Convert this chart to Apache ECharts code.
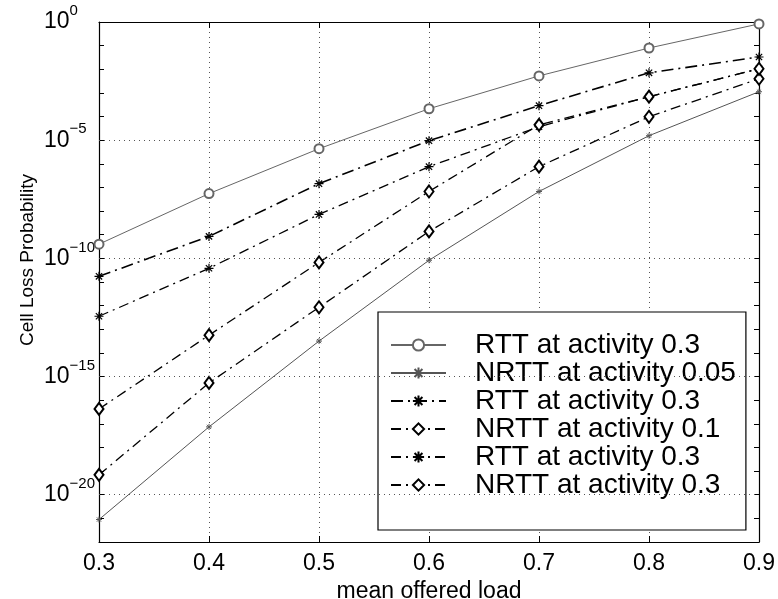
<!DOCTYPE html>
<html>
<head>
<meta charset="utf-8">
<script src="https://cdn.jsdelivr.net/npm/echarts@6/dist/echarts.min.js"></script>
<style>
  html, body { margin: 0; padding: 0; background: #fff; }
  #main { width: 778px; height: 599px; }
</style>
</head>
<body>
<div id="main"></div>
<script>
// mean offered load (x)
var loads = [0.3, 0.4, 0.5, 0.6, 0.7, 0.8, 0.9];
// cell loss probability as log10 exponents
var rtt03a = [-9.4, -7.26, -5.36, -3.67, -2.28, -1.1, -0.08];
var nrtt005 = [-21.05, -17.13, -13.5, -10.08, -7.17, -4.81, -2.95];
var rtt03b = [-10.76, -9.07, -6.84, -5.02, -3.54, -2.15, -1.48];
var nrtt01 = [-19.16, -15.27, -12.07, -8.86, -6.12, -4.01, -2.4];
var rtt03c = [-12.45, -10.42, -8.14, -6.12, -4.43, -3.16, -1.98];
var nrtt03 = [-16.37, -13.25, -10.17, -7.17, -4.35, -3.16, -1.98];
var seriesNames = ['RTT at activity 0.3 #1', 'NRTT at activity 0.05', 'RTT at activity 0.3 #2',
                   'NRTT at activity 0.1', 'RTT at activity 0.3 #3', 'NRTT at activity 0.3'];
var gridDecades = [-5, -10, -15, -20];

var FONT = 'Liberation Sans, Arial, Helvetica, sans-serif';
var star = 'path://M5,0L5,10M0,5L10,5M1.5,1.5L8.5,8.5M1.5,8.5L8.5,1.5';

function pts(arr) {
    var out = [];
    for (var i = 0; i < loads.length; i++) out.push([loads[i], arr[i]]);
    return out;
}

function mk(name, arr, symbol, size, lineType, width, color, bw) {
    return {
        name: name,
        type: 'line',
        data: pts(arr),
        symbol: symbol,
        symbolSize: size,
        showSymbol: true,
        animation: false,
        lineStyle: { color: color, width: width, type: lineType },
        itemStyle: { color: color, borderColor: color, borderWidth: bw }
    };
}

var series = [
    mk(seriesNames[0], rtt03a, 'emptyCircle', 9, 'solid', 1, '#666', 0.8),
    mk(seriesNames[1], nrtt005, star, 6, 'solid', 1, '#555', 1),
    mk(seriesNames[2], rtt03b, star, 9, [12, 5, 2, 5], 1.6, '#000', 1.2),
    mk(seriesNames[3], nrtt01, 'emptyDiamond', [9, 12], [10, 5, 2, 5], 1.3, '#000', 1.1),
    mk(seriesNames[4], rtt03c, star, 9, [10, 5, 2, 5], 1.3, '#000', 1.2),
    mk(seriesNames[5], nrtt03, 'emptyDiamond', [9, 12], [10, 5, 2, 5], 1.3, '#000', 1.1)
];
// dotted grid lines at the labelled decades
series[0].markLine = {
    silent: true,
    symbol: 'none',
    label: { show: false },
    lineStyle: { color: '#555', type: [1, 4], width: 1 },
    data: gridDecades.map(function (d) { return { yAxis: d }; })
};

var chart = echarts.init(document.getElementById('main'), null, { renderer: 'canvas' });
chart.setOption({
    backgroundColor: '#fff',
    animation: false,
    grid: { left: 99, right: 19, top: 22, bottom: 57, show: false, outerBoundsMode: 'none', containLabel: false },
    xAxis: [{
        type: 'value', min: 0.3, max: 0.9, interval: 0.1,
        name: 'mean offered load', nameLocation: 'middle', nameGap: 32,
        nameTextStyle: { fontSize: 23, fontFamily: FONT, color: '#000' },
        axisLine: { show: true, onZero: false, lineStyle: { color: '#000', width: 1.2 } },
        axisTick: { show: true, inside: true, length: 6, lineStyle: { color: '#000' } },
        axisLabel: { fontSize: 23, fontFamily: FONT, color: '#000', margin: 10,
            formatter: function (v) { return v.toFixed(1); } },
        splitLine: { show: true, lineStyle: { color: '#555', type: [1, 4], width: 1 } }
    }, {
        type: 'value', min: 0.3, max: 0.9, interval: 0.1, position: 'top',
        axisLine: { show: true, onZero: false, lineStyle: { color: '#000', width: 1.2 } },
        axisTick: { show: true, inside: true, length: 6, lineStyle: { color: '#000' } },
        axisLabel: { show: false },
        splitLine: { show: false }
    }],
    yAxis: [{
        type: 'value', min: -22, max: 0, interval: 1,
        axisLine: { show: true, onZero: false, lineStyle: { color: '#000', width: 1.2 } },
        axisTick: { show: true, inside: true, length: 5, lineStyle: { color: '#000' } },
        axisLabel: {
            align: 'left', margin: 55, color: '#000',
            formatter: function (v) {
                if (v % 5 !== 0) return '';
                return '{b|10}{s|' + (v === 0 ? '0' : '\u2212' + (-v)) + '}';
            },
            rich: {
                b: { fontSize: 23, fontFamily: FONT, color: '#000' },
                s: { fontSize: 15, fontFamily: FONT, color: '#000', padding: [0, 0, 22, 0] }
            }
        },
        splitLine: { show: false }
    }, {
        type: 'value', min: -22, max: 0, interval: 1, position: 'right',
        axisLine: { show: true, onZero: false, lineStyle: { color: '#000', width: 1.2 } },
        axisTick: { show: true, inside: true, length: 5, lineStyle: { color: '#000' } },
        axisLabel: { show: false },
        splitLine: { show: false }
    }],
    legend: {
        orient: 'vertical',
        left: 378, top: 312,
        padding: [19, 10, 31, 12],
        backgroundColor: '#fff',
        borderColor: '#000', borderWidth: 1.2,
        itemWidth: 55, itemHeight: 14, itemGap: 0,
        selectedMode: false,
        data: seriesNames,
        formatter: function (name) { return name.replace(/ #\d$/, ''); },
        textStyle: { fontSize: 28, lineHeight: 27, fontFamily: FONT, color: '#000', padding: [0, 0, 0, 24] }
    },
    graphic: [{
        type: 'text', x: 28, y: 260, rotation: Math.PI / 2,
        style: { text: 'Cell Loss Probability', fontSize: 19, fontFamily: FONT, fill: '#000',
            textAlign: 'center', textVerticalAlign: 'middle' }
    }],
    series: series
});
</script>
</body>
</html>
